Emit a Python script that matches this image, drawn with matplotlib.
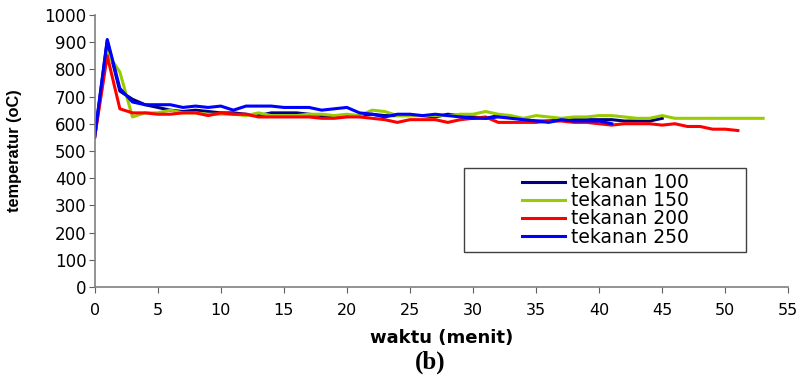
import matplotlib.pyplot as plt
from matplotlib.patches import Rectangle

plt.rcParams['font.family'] = ['DejaVu Sans']

# waktu (menit) and temperatur (oC) per tekanan
t100 = list(range(0, 46))
temp100 = [550, 905, 720, 690, 670, 660, 650, 645, 650, 645,
           640, 640, 635, 630, 640, 640, 640, 635, 630, 630,
           630, 630, 635, 630, 630, 630, 630, 625, 635, 630,
           625, 620, 630, 625, 615, 610, 610, 615, 615, 615,
           615, 615, 610, 610, 610, 620]

t150 = list(range(0, 54))
temp150 = [550, 860, 790, 625, 640, 640, 650, 640, 640, 635,
           635, 635, 630, 640, 630, 630, 630, 635, 635, 630,
           635, 630, 650, 645, 630, 630, 630, 630, 630, 635,
           635, 645, 635, 630, 620, 630, 625, 620, 625, 625,
           630, 630, 625, 620, 620, 630, 620, 620, 620, 620,
           620, 620, 620, 620]

t200 = list(range(0, 52))
temp200 = [550, 850, 655, 640, 640, 635, 635, 640, 640, 630,
           640, 635, 635, 625, 625, 625, 625, 625, 620, 620,
           625, 625, 620, 615, 605, 615, 615, 615, 605, 615,
           620, 625, 605, 605, 605, 605, 610, 610, 605, 605,
           600, 595, 600, 600, 600, 595, 600, 590, 590, 580,
           580, 575]

t250 = list(range(0, 42))
temp250 = [550, 910, 730, 680, 670, 670, 670, 660, 665, 660,
           665, 650, 665, 665, 665, 660, 660, 660, 650, 655,
           660, 640, 635, 625, 635, 635, 630, 635, 630, 625,
           620, 620, 625, 620, 615, 610, 605, 615, 610, 610,
           610, 600]

series = [
    (t100, temp100, 'tekanan 100', '#000080'),
    (t150, temp150, 'tekanan 150', '#99CC00'),
    (t200, temp200, 'tekanan 200', '#FF0000'),
    (t250, temp250, 'tekanan 250', '#0000FF'),
]

fig = plt.figure(figsize=(8.02, 3.75), dpi=100)
ax = fig.add_axes([0.118, 0.235, 0.865, 0.725])

for x, y, lab, col in series:
    ax.plot(x, y, color=col, lw=2.2, label=lab)

ax.set_xlim(0, 55)
ax.set_ylim(0, 1000)
ax.set_xticks(range(0, 56, 5))
ax.set_yticks(range(0, 1001, 100))
for s in ['top', 'right']:
    ax.spines[s].set_visible(False)
for s in ['left', 'bottom']:
    ax.spines[s].set_color('#808080')
    ax.spines[s].set_linewidth(1.2)
ax.tick_params(direction='out', length=4.5, color='#606060', labelcolor='black')
ax.tick_params(axis='x', pad=7, labelsize=11.5)
ax.tick_params(axis='y', pad=1.5, labelsize=12)

ax.set_xlabel('waktu (menit)', fontsize=13, fontweight='bold', labelpad=8)
ax.set_ylabel('temperatur (oC)', fontsize=11.8, fontweight='bold',
              family=['Liberation Sans', 'DejaVu Sans'])
ax.yaxis.set_label_coords(-0.105, 0.5)

# legend box
ax.add_patch(Rectangle((0.532, 0.129), 0.407, 0.3085, transform=ax.transAxes,
                       facecolor='white', edgecolor='#404040', lw=1.0, zorder=4))
leg = ax.legend(loc='center', bbox_to_anchor=(0.736, 0.283), fontsize=13.5,
                frameon=False, handlelength=2.3, labelspacing=-0.05,
                handletextpad=0.3, borderpad=0, borderaxespad=0)
leg.set_zorder(5)

fig.text(0.537, 0.035, '(b)', fontsize=18, fontweight='bold',
         family=['Liberation Serif', 'DejaVu Serif'], ha='center', va='center')

fig.savefig('out.png', dpi=100)
